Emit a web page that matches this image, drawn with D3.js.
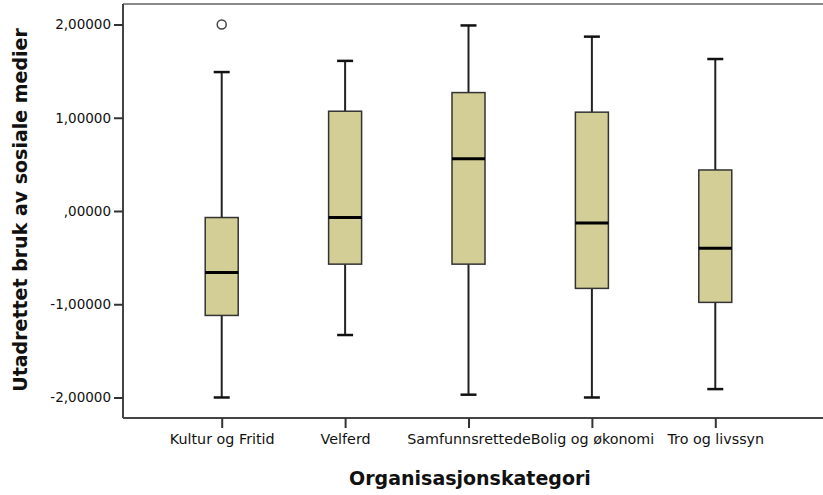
<!DOCTYPE html>
<html><head><meta charset="utf-8">
<script src="https://cdn.jsdelivr.net/npm/d3@7/dist/d3.min.js"></script>
<style>body{margin:0;background:#fff}svg{display:block}</style>
</head><body><svg id="c" width="823" height="495"></svg>
<script>
const categories = ["Kultur og Fritid","Velferd","Samfunnsrettede","Bolig og økonomi","Tro og livssyn"];
const whiskerLow  = [-2.00, -1.33, -1.97, -2.00, -1.91];
const q1          = [-1.12, -0.57, -0.57, -0.83, -0.98];
const median      = [-0.66, -0.07,  0.56, -0.13, -0.40];
const q3          = [-0.07,  1.07,  1.27,  1.06,  0.44];
const whiskerHigh = [ 1.49,  1.61,  1.99,  1.87,  1.63];
const outliers    = [{cat:"Kultur og Fritid", value:2.00}];
const yTicks = [-2, -1, 0, 1, 2];
const yTickLabels = ["-2,00000","-1,00000",",00000","1,00000","2,00000"];

const svg = d3.select("#c");
const L = 123, T = 4, R = 814, B = 418;
const x = d3.scalePoint().domain(categories).range([L, R]).padding(0.8);
const y = d3.scaleLinear().domain([-2.22, 2.22]).range([B, T]);
const boxW = 33, capW = 16;
const font = "DejaVu Sans, Arial, sans-serif";

// frame
svg.append("line").attr("x1", L).attr("x2", 830).attr("y1", T).attr("y2", T)
  .attr("stroke", "#8a8a8a").attr("stroke-width", 2);

const data = categories.map((c,i)=>({c, lo:whiskerLow[i], q1:q1[i], md:median[i], q3:q3[i], hi:whiskerHigh[i]}));
const g = svg.append("g").selectAll("g").data(data).join("g");
// whiskers
g.append("line").attr("x1", d=>x(d.c)).attr("x2", d=>x(d.c)).attr("y1", d=>y(d.q3)).attr("y2", d=>y(d.hi))
  .attr("stroke", "#222").attr("stroke-width", 2);
g.append("line").attr("x1", d=>x(d.c)).attr("x2", d=>x(d.c)).attr("y1", d=>y(d.q1)).attr("y2", d=>y(d.lo))
  .attr("stroke", "#222").attr("stroke-width", 2);
g.append("line").attr("x1", d=>x(d.c)-capW/2).attr("x2", d=>x(d.c)+capW/2).attr("y1", d=>y(d.hi)).attr("y2", d=>y(d.hi))
  .attr("stroke", "#111").attr("stroke-width", 2.5);
g.append("line").attr("x1", d=>x(d.c)-capW/2).attr("x2", d=>x(d.c)+capW/2).attr("y1", d=>y(d.lo)).attr("y2", d=>y(d.lo))
  .attr("stroke", "#111").attr("stroke-width", 2.5);
// boxes
g.append("rect").attr("x", d=>x(d.c)-boxW/2).attr("width", boxW)
  .attr("y", d=>y(d.q3)).attr("height", d=>y(d.q1)-y(d.q3))
  .attr("fill", "#d2ce96").attr("stroke", "#333").attr("stroke-width", 1.5);
g.append("line").attr("x1", d=>x(d.c)-boxW/2).attr("x2", d=>x(d.c)+boxW/2).attr("y1", d=>y(d.md)).attr("y2", d=>y(d.md))
  .attr("stroke", "#000").attr("stroke-width", 3);
// outliers
svg.append("g").selectAll("circle").data(outliers).join("circle")
  .attr("cx", d=>x(d.cat)).attr("cy", d=>y(d.value)).attr("r", 4.5)
  .attr("fill", "#fff").attr("stroke", "#444").attr("stroke-width", 1.5);

// axes
const yAxis = svg.append("g").attr("transform", `translate(${L},0)`)
  .call(d3.axisLeft(y).tickValues(yTicks).tickFormat((d,i)=>yTickLabels[i]).tickSizeOuter(0).tickSize(9).tickPadding(3));
yAxis.select(".domain").attr("d", `M0,${T}V${B}`).attr("stroke", "#444").attr("stroke-width", 2);
yAxis.selectAll(".tick text").attr("font-size", 13.5);
const xAxis = svg.append("g").attr("transform", `translate(0,${B})`)
  .call(d3.axisBottom(x).tickSizeOuter(0).tickSize(10).tickPadding(6));
xAxis.select(".domain").attr("d", `M${L},0H830`).attr("stroke", "#444").attr("stroke-width", 2);
xAxis.selectAll(".tick text").attr("font-size", 14.3);
svg.selectAll(".tick line").attr("stroke", "#333").attr("stroke-width", 2);
svg.selectAll(".tick text").attr("font-family", font).attr("fill", "#111");

// titles
svg.append("text").attr("x", 470).attr("y", 485).attr("text-anchor", "middle")
  .attr("font-family", font).attr("font-weight", "bold").attr("font-size", 19).attr("fill", "#111")
  .text("Organisasjonskategori");
svg.append("text").attr("transform", "translate(27,210) rotate(-90)").attr("text-anchor", "middle")
  .attr("font-family", font).attr("font-weight", "bold").attr("font-size", 19).attr("fill", "#111")
  .text("Utadrettet bruk av sosiale medier");
</script></body></html>
